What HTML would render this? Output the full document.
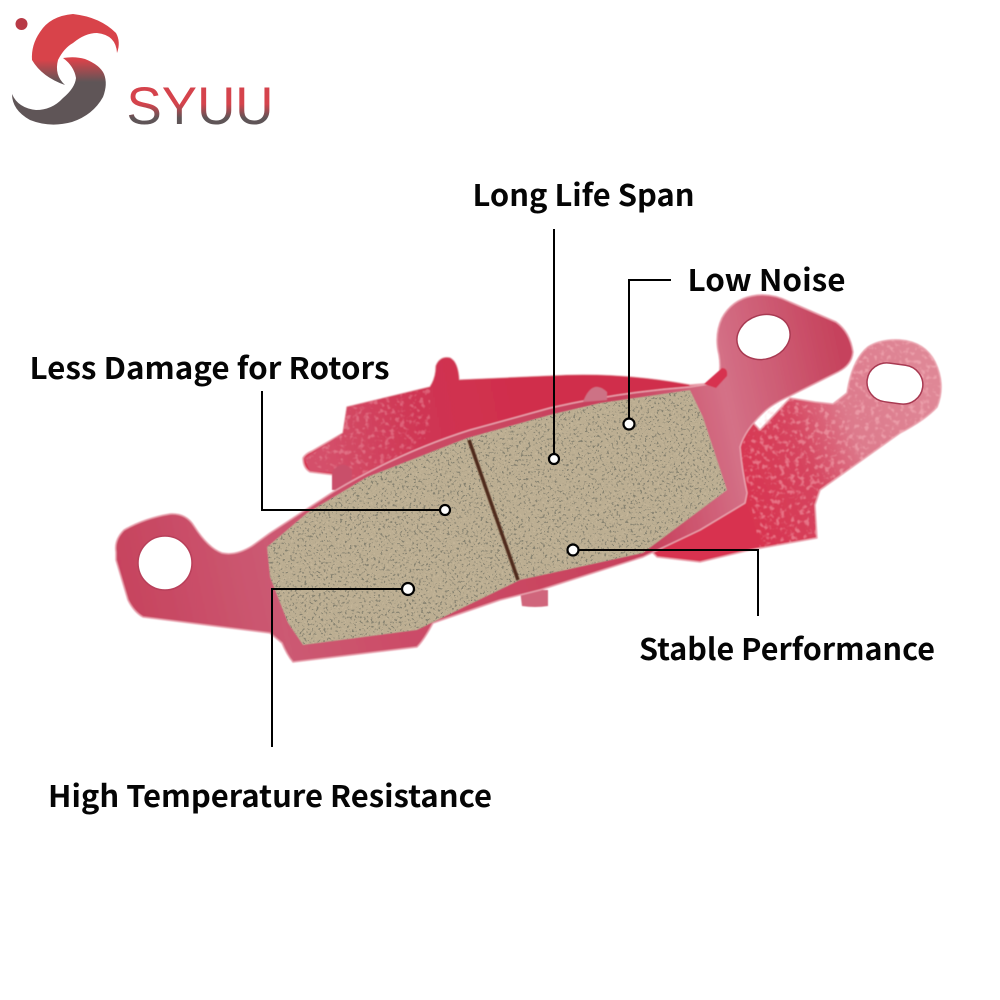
<!DOCTYPE html>
<html><head><meta charset="utf-8"><style>
html,body{margin:0;padding:0;background:#fff}
svg{display:block}
text.l{font-family:"Noto Sans CJK SC","Liberation Sans",sans-serif;font-weight:700;font-size:30px;fill:#050505}
</style></head><body>
<svg width="1000" height="1000" viewBox="0 0 1000 1000" xmlns="http://www.w3.org/2000/svg">
<defs>
<linearGradient id="lg" gradientUnits="userSpaceOnUse" x1="0" y1="60" x2="0" y2="82"><stop offset="0" stop-color="#d8434a"/><stop offset="1" stop-color="#5f5557"/></linearGradient>
<linearGradient id="tg" gradientUnits="userSpaceOnUse" x1="0" y1="104" x2="0" y2="118"><stop offset="0" stop-color="#d5434c"/><stop offset="1" stop-color="#5f5557"/></linearGradient>
<linearGradient id="back" gradientUnits="userSpaceOnUse" x1="730" y1="470" x2="930" y2="390"><stop offset="0" stop-color="#d8334f"/><stop offset=".35" stop-color="#d6455f"/><stop offset=".6" stop-color="#dd7a8c"/><stop offset="1" stop-color="#df8796"/></linearGradient>
<linearGradient id="front" gradientUnits="userSpaceOnUse" x1="116" y1="560" x2="850" y2="400"><stop offset="0" stop-color="#c7435e"/><stop offset=".2" stop-color="#cc5a73"/><stop offset=".34" stop-color="#cc4d68"/><stop offset=".7" stop-color="#c8405c"/><stop offset=".84" stop-color="#d47187"/><stop offset="1" stop-color="#c6435d"/></linearGradient>
<linearGradient id="top" gradientUnits="userSpaceOnUse" x1="320" y1="440" x2="520" y2="400"><stop offset="0" stop-color="#d4506a"/><stop offset=".5" stop-color="#cf3553"/><stop offset="1" stop-color="#d02e4c"/></linearGradient>
<filter id="spk" x="0" y="0" width="100%" height="100%" color-interpolation-filters="sRGB"><feTurbulence type="fractalNoise" baseFrequency=".42" numOctaves="2" seed="7"/><feColorMatrix values="0 0 0 0 .44  0 0 0 0 .44  0 0 0 0 .39  9 0 0 0 -5.300"/></filter>
<filter id="spl" x="0" y="0" width="100%" height="100%" color-interpolation-filters="sRGB"><feTurbulence type="fractalNoise" baseFrequency=".45" numOctaves="2" seed="21"/><feColorMatrix values="0 0 0 0 .84  0 0 0 0 .78  0 0 0 0 .66  8 0 0 0 -4.500"/></filter>
<filter id="lit" x="0" y="0" width="100%" height="100%" color-interpolation-filters="sRGB"><feTurbulence type="fractalNoise" baseFrequency=".2" numOctaves="2" seed="3"/><feColorMatrix values="0 0 0 0 1  0 0 0 0 .78  0 0 0 0 .8  5 0 0 0 -2.600"/></filter>
<filter id="soft"><feGaussianBlur stdDeviation=".6"/></filter>
<clipPath id="padc"><path d="M267 547L307 513L367 477L467 438L553 414L600 403L690 390L703 417L727 490L643 553L520 580L417 630L303 645L288 623L270 577Z"/></clipPath>
<clipPath id="rc"><path d="M740 447L763 413L790 397L815 404L833 405L847 393Q852 360 868 347Q880 339 900 340Q925 342 935 362Q946 385 937 407Q925 420 900 433L820 490L815 505L817 538L760 548L750 500Z"/></clipPath>
<clipPath id="tc"><path d="M303 461L343 433L347 407L430 387L430 440L350 480Z"/></clipPath>
</defs>

<!-- logo -->
<circle cx="21.500" cy="24" r="6" fill="#b83a46"/>
<path d="M117 53Q121 42 116 33Q100 17 73 14Q50 16 40 32Q31 45 32 60Q42 77 65 85Q54 75 58 60Q64 48 73 43Q85 33 97 33Q116 35 117 53Z" fill="url(#lg)"/>
<path d="M63 58Q75 56 85 59Q100 65 104 74Q108 84 103 97Q93 115 72 122Q50 128 30 120Q12 110 12 94Q18 108 36 110Q52 110 63 98Q75 88 76 78Q74 66 63 58Z" fill="url(#lg)"/>
<text x="126.500" y="124" font-family="Liberation Sans,sans-serif" font-size="53" fill="url(#tg)" textLength="147" lengthAdjust="spacingAndGlyphs">SYUU</text>

<g filter="url(#soft)">
<!-- back plate -->
<path d="M303 458Q305 454 312 451L343 433L347 407L430 387Q436 378 436 366Q440 356 450 358Q458 362 459 380L550 376Q620 372 690 385L716 383L760 430L790 398L815 402L833 404L847 393Q852 360 868 347Q880 339 900 340Q925 342 935 362Q946 385 937 407Q925 420 900 433L820 490L815 505L817 538L750 550L700 562L657 557L640 540L400 500L350 475L335 475L310 472Q303 468 303 458Z" fill="url(#back)" stroke="#eaa5b0" stroke-width="1.500" stroke-linejoin="round"/>
<path d="M304 458L343 433L347 407L430 387Q436 378 436 366Q440 356 450 358Q458 362 459 380L550 376Q620 372 690 385L600 410L470 440L350 490L335 473L310 471Z" fill="url(#top)"/>
<g clip-path="url(#tc)"><rect x="300" y="385" width="130" height="100" filter="url(#lit)" opacity=".3"/></g>
<g clip-path="url(#rc)"><rect x="740" y="335" width="210" height="215" filter="url(#lit)" opacity=".4"/></g>
<path d="M520 590L548 590V606Q535 608 522 606Z" fill="#d0667c"/>
<path d="M332 490V472Q342 458 352 470V490Z" fill="#c9506a"/>

<!-- front plate -->
<path d="M116 552Q114 540 124 530Q145 518 170 514Q186 513 194 526Q208 548 222 553Q236 556 252 546L270 533L333 492Q400 452 470 430L550 408Q620 392 690 387L716 383Q722 372 719 355Q714 335 722 318Q732 300 752 296Q770 292 790 302L836 322Q850 332 853 352Q852 365 838 372L790 396Q772 404 763 413Q745 430 740 447Q742 470 747 493L745 503L700 530L643 557L540 590L500 600L433 623Q424 640 417 647L293 662Q287 655 282 643L270 633L143 617Q134 612 128 600L116 560Z" fill="url(#front)" stroke="#e8a0ad" stroke-width="1.500" stroke-linejoin="round"/>
<path d="M583 402Q592 378 607 392V400Z" fill="#cd7285"/>
<path d="M704 384L722 368Q728 368 727 376L716 388Z" fill="#d7324f"/>
</g>

<!-- holes -->
<circle cx="165" cy="563" r="27" fill="#fff" stroke="#b8405a" stroke-width="1.500"/>
<ellipse cx="763.500" cy="337" rx="27" ry="22" transform="rotate(-18 763.500 337)" fill="#fff" stroke="#a83a52" stroke-width="1.500"/>
<rect x="867" y="364" width="56" height="39" rx="20" transform="rotate(8 895 383)" fill="#fff" stroke="#a83a52" stroke-width="1.500"/>

<!-- friction pad -->
<path d="M267 547L307 513L367 477L467 438L553 414L600 403L690 390L703 417L727 490L643 553L520 580L417 630L303 645L288 623L270 577Z" fill="#bcae92" filter="url(#soft)"/>
<g clip-path="url(#padc)">
<rect x="260" y="385" width="475" height="265" filter="url(#spl)" opacity=".3"/>
<rect x="260" y="385" width="475" height="265" filter="url(#spk)" opacity=".7"/>
</g>
<path d="M469 440L518 580" stroke="#4f2a1c" stroke-width="3.500" fill="none" filter="url(#soft)"/>

<!-- leaders -->
<g fill="none" stroke="#000" stroke-width="2">
<path d="M554 229V459"/>
<path d="M671 280H629V424"/>
<path d="M262 391V510H445"/>
<path d="M272 747V589H408"/>
<path d="M573 550H758V616"/>
</g>
<g fill="#fff" stroke="#000" stroke-width="2.200">
<circle cx="554" cy="459" r="5"/>
<circle cx="629" cy="424" r="5.500"/>
<circle cx="445" cy="510" r="5"/>
<circle cx="408" cy="589" r="6"/>
<circle cx="573" cy="550" r="5.500"/>
</g>

<!-- labels -->
<text class="l" x="472.500" y="206" textLength="222" lengthAdjust="spacingAndGlyphs">Long Life Span</text>
<text class="l" x="687.500" y="291" textLength="158" lengthAdjust="spacingAndGlyphs">Low Noise</text>
<text class="l" x="29.500" y="379" textLength="360" lengthAdjust="spacingAndGlyphs">Less Damage for Rotors</text>
<text class="l" x="639" y="660" textLength="296" lengthAdjust="spacingAndGlyphs">Stable Performance</text>
<text class="l" x="48" y="807" textLength="444" lengthAdjust="spacingAndGlyphs">High Temperature Resistance</text>
</svg>
</body></html>
